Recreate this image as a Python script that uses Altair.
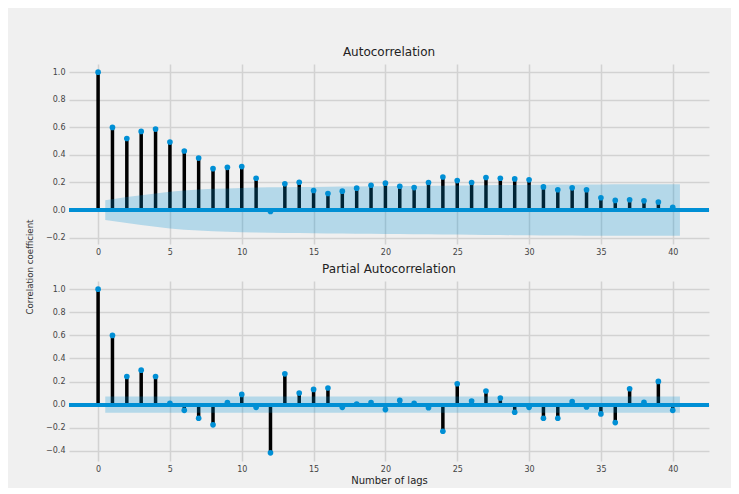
import altair as alt
import pandas as pd

lags = list(range(0, 41))

acf_values = [1.0, 0.599, 0.519, 0.570, 0.587, 0.493, 0.428, 0.377, 0.300, 0.310,
              0.315, 0.231, -0.010, 0.190, 0.202, 0.142, 0.120, 0.137, 0.159, 0.180,
              0.195, 0.173, 0.163, 0.200, 0.240, 0.214, 0.200, 0.236, 0.231, 0.226,
              0.219, 0.168, 0.147, 0.161, 0.147, 0.089, 0.070, 0.075, 0.067, 0.058,
              0.019]

pacf_values = [1.0, 0.600, 0.244, 0.299, 0.244, 0.011, -0.049, -0.118, -0.175, 0.017,
               0.089, -0.023, -0.417, 0.267, 0.100, 0.132, 0.144, -0.023, 0.006, 0.017,
               -0.043, 0.037, 0.011, -0.026, -0.230, 0.181, 0.032, 0.118, 0.057, -0.066,
               -0.023, -0.118, -0.118, 0.026, -0.020, -0.080, -0.155, 0.138, 0.020, 0.201,
               -0.049]

# confidence band half-widths for lags 1..40
acf_band = [0.072, 0.094, 0.108, 0.121, 0.133, 0.142, 0.149, 0.154, 0.157, 0.160,
            0.163, 0.165, 0.166, 0.167, 0.168, 0.169, 0.170, 0.171, 0.172, 0.173,
            0.174, 0.175, 0.176, 0.177, 0.178, 0.179, 0.180, 0.181, 0.182, 0.183,
            0.184, 0.185, 0.185, 0.186, 0.186, 0.187, 0.187, 0.187, 0.187, 0.187]
pacf_band = [0.071] * 40

x_ticks = [0, 5, 10, 15, 20, 25, 30, 35, 40]
acf_y_ticks = [-0.2, 0.0, 0.2, 0.4, 0.6, 0.8, 1.0]
pacf_y_ticks = [-0.4, -0.2, 0.0, 0.2, 0.4, 0.6, 0.8, 1.0]

BLUE = "#008fd5"
FONT = "DejaVu Sans"


def band_frame(band):
    bl = [float(l) for l in lags[1:]]
    bl[0] -= 0.5
    bl[-1] += 0.5
    return pd.DataFrame({"lag": bl, "lo": [-b for b in band], "hi": band})


def panel(values, band, title, yticks, ydom, show_xtitle):
    df = pd.DataFrame({"lag": lags, "value": values})
    xscale = alt.Scale(domain=[-2.025, 42.525], nice=False, zero=False)
    yscale = alt.Scale(domain=ydom, nice=False, zero=False)
    xaxis = alt.Axis(values=x_ticks, format="d", labelOverlap=False,
                     title="Number of lags" if show_xtitle else None,
                     titleFontSize=10, titleColor="#222", titleFontWeight="normal",
                     titleFont=FONT, titlePadding=2)
    yaxis = alt.Axis(values=yticks, format=".1f", title=None, labelOverlap=False)
    X = lambda f: alt.X(f, type="quantitative", scale=xscale, axis=xaxis)
    Y = lambda f: alt.Y(f, type="quantitative", scale=yscale, axis=yaxis)
    base = alt.Chart(df)
    stems = base.mark_rule(color="black", strokeWidth=3.5).encode(
        x=X("lag"), y=Y("value"), y2=alt.datum(0))
    zero = alt.Chart(df).mark_rule(color=BLUE, strokeWidth=3.5).encode(
        y=alt.datum(0, type="quantitative", scale=yscale, axis=yaxis))
    pts = base.mark_circle(color=BLUE, size=32, opacity=1).encode(
        x=X("lag"), y=Y("value"))
    area = alt.Chart(band_frame(band)).mark_area(color=BLUE, opacity=0.25).encode(
        x=X("lag"), y=Y("lo"), y2="hi:Q")
    return alt.layer(stems, zero, pts, area).properties(
        width=640, height=180,
        title=alt.TitleParams(title, fontSize=12, font=FONT, fontWeight="normal",
                              color="#222", offset=5))


acf = panel(acf_values, acf_band, "Autocorrelation", acf_y_ticks, [-0.246, 1.059], False)
pacf = panel(pacf_values, pacf_band, "Partial Autocorrelation", pacf_y_ticks, [-0.488, 1.071], True)

stack = alt.vconcat(acf, pacf, spacing=7)

ytitle = alt.Chart(pd.DataFrame({"t": ["Correlation coefficient"]})).mark_text(
    angle=270, fontSize=8.6, font=FONT, color="#333").encode(
    text="t:N", x=alt.value(22), y=alt.value(203)).properties(width=37, height=420)

chart = alt.hconcat(ytitle, stack, spacing=0).properties(
    padding={"left": 0, "top": 38, "right": 20, "bottom": 3},
    background="#f0f0f0",
).configure_view(stroke=None).configure_axis(
    grid=True, gridColor="#d2d2d2", gridWidth=1.5, domain=False, ticks=False,
    labelFont=FONT, labelFontSize=8, labelColor="#444", labelPadding=4,
)

chart.save("out.html", embed_options={"renderer": "svg", "actions": False})
